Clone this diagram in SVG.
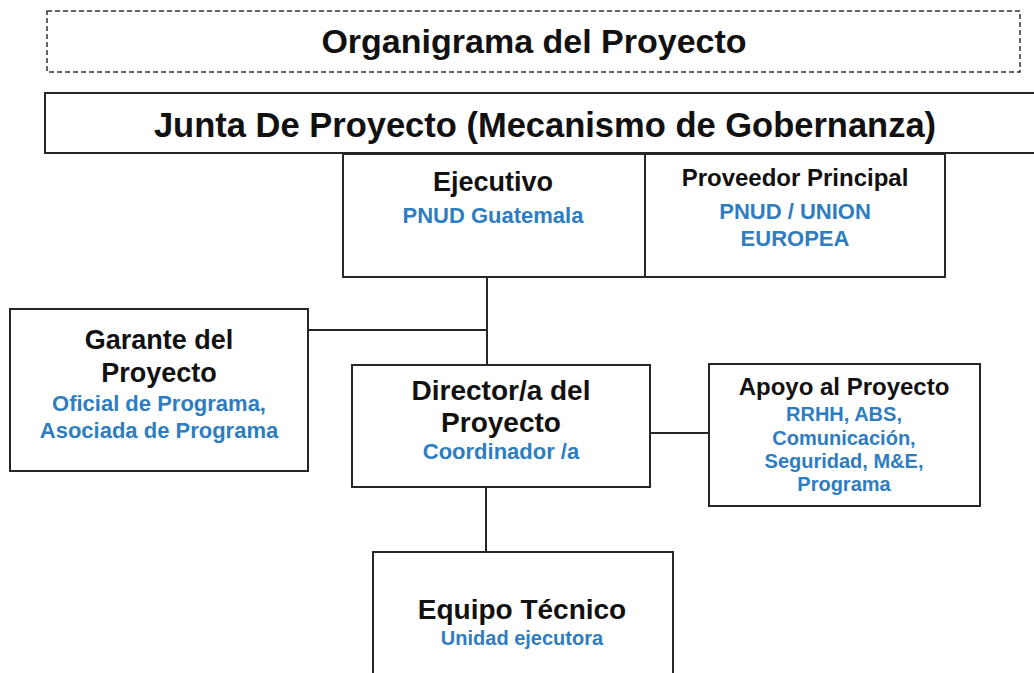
<svg xmlns="http://www.w3.org/2000/svg" width="1034" height="673" viewBox="0 0 1034 673">
<style>
.box{fill:#fff;stroke:#262626;stroke-width:2}
.dash{fill:#fff;stroke:#333;stroke-width:1.5;stroke-dasharray:5 3}
.h{font-family:"Liberation Sans",Arial,sans-serif;font-weight:bold;fill:#111;text-anchor:middle}
.b{font-family:"Liberation Sans",Arial,sans-serif;font-weight:bold;fill:#2e7dc0;text-anchor:middle}
.ln{stroke:#262626;stroke-width:2;fill:none}
</style>
<rect width="1034" height="673" fill="#fff"/>
<g id="titulo">
<rect class="dash" x="47" y="11" width="973" height="61"/>
<text class="h" x="534" y="53" font-size="34">Organigrama del Proyecto</text>
</g>
<g id="junta">
<rect class="box" x="45" y="93" width="1000" height="60"/>
<text class="h" x="545" y="137" font-size="34.5">Junta De Proyecto (Mecanismo de Gobernanza)</text>
</g>
<g id="connectors">
<line class="ln" x1="487" y1="277" x2="487" y2="365"/>
<line class="ln" x1="308" y1="330" x2="487" y2="330"/>
<line class="ln" x1="650" y1="433" x2="709" y2="433"/>
<line class="ln" x1="486" y1="487" x2="486" y2="552"/>
</g>
<g id="ejecutivo">
<rect class="box" x="343" y="154" width="302" height="123"/>
<text class="h" x="493" y="191" font-size="27">Ejecutivo</text>
<text class="b" x="493" y="223" font-size="22">PNUD Guatemala</text>
</g>
<g id="proveedor">
<rect class="box" x="645" y="154" width="300" height="123"/>
<text class="h" x="795" y="186" font-size="24">Proveedor Principal</text>
<text class="b" x="795" y="219" font-size="22">PNUD / UNION</text>
<text class="b" x="795" y="246" font-size="22">EUROPEA</text>
</g>
<g id="garante">
<rect class="box" x="10" y="309" width="298" height="162"/>
<text class="h" x="159" y="349" font-size="27">Garante del</text>
<text class="h" x="159" y="382" font-size="27">Proyecto</text>
<text class="b" x="159" y="411" font-size="22">Oficial de Programa,</text>
<text class="b" x="159" y="438" font-size="22">Asociada de Programa</text>
</g>
<g id="director">
<rect class="box" x="352" y="365" width="298" height="122"/>
<text class="h" x="501" y="400" font-size="28">Director/a del</text>
<text class="h" x="501" y="432" font-size="28">Proyecto</text>
<text class="b" x="501" y="459" font-size="22">Coordinador /a</text>
</g>
<g id="apoyo">
<rect class="box" x="709" y="364" width="271" height="142"/>
<text class="h" x="844" y="395" font-size="24">Apoyo al Proyecto</text>
<text class="b" x="844" y="421" font-size="20">RRHH, ABS,</text>
<text class="b" x="844" y="445" font-size="20">Comunicación,</text>
<text class="b" x="844" y="468" font-size="20">Seguridad, M&amp;E,</text>
<text class="b" x="844" y="491" font-size="20">Programa</text>
</g>
<g id="equipo">
<rect class="box" x="373" y="552" width="300" height="140"/>
<text class="h" x="522" y="619" font-size="28">Equipo Técnico</text>
<text class="b" x="522" y="645" font-size="20">Unidad ejecutora</text>
</g>
</svg>
